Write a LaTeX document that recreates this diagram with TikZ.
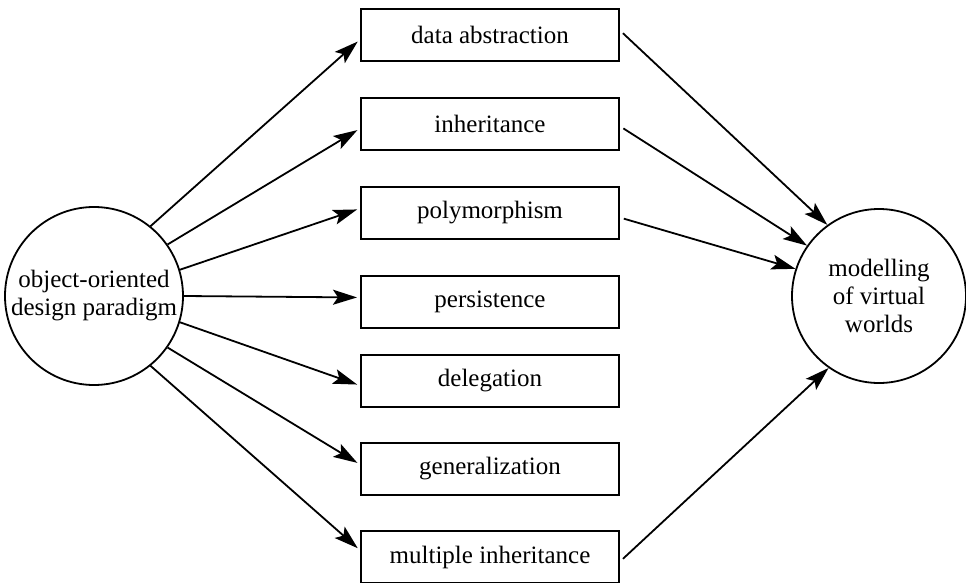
\documentclass[tikz,border=0pt]{standalone}
\usepackage{fontspec}
\setmainfont{Liberation Serif}
\usetikzlibrary{arrows.meta}
\begin{document}
\begin{tikzpicture}[x=1pt, y=1pt,
    box/.style={draw, line width=2pt, minimum width=258pt, minimum height=52pt, inner sep=0pt,
        font=\rmfamily\fontsize{25}{28}\selectfont},
    hub/.style={draw, circle, line width=1.8pt, align=center, inner sep=0pt,
        font=\rmfamily\fontsize{25}{28}\selectfont},
    link/.style={line width=1.8pt, -{Stealth[length=24pt, width=15pt, inset=5pt]}}]
    \useasboundingbox (0,0) rectangle (966,-583);

    % 两个圆
    \node[hub, minimum size=178pt] (ood) at (94,-296) {object-oriented\\design paradigm};
    \node[hub, minimum size=174pt] (mvw) at (879,-296) {modelling\\of virtual\\worlds};

    % 中间的方框
    \node[box] (abs)  at (490,-35)  {data abstraction};
    \node[box] (inh)  at (490,-124) {inheritance};
    \node[box] (poly) at (490,-213) {polymorphism};
    \node[box] (pers) at (490,-302) {persistence};
    \node[box] (dele) at (490,-381) {delegation};
    \node[box] (gen)  at (490,-469) {generalization};
    \node[box] (mult) at (490,-557) {multiple inheritance};

    % 左边的箭头
    \draw[link, shorten >=3pt] (ood.51)  -- (abs.182);
    \draw[link, shorten >=3pt] (ood.35)  -- (inh.182);
    \draw[link, shorten >=3pt] (ood.17)  -- (poly.178);
    \draw[link, shorten >=3pt] (ood.0)   -- (pers.178);
    \draw[link, shorten >=3pt] (ood.-17) -- (dele.182);
    \draw[link, shorten >=3pt] (ood.-35) -- (gen.178);
    \draw[link, shorten >=3pt] (ood.-51) -- (mult.177);

    % 右边的箭头
    \draw[link, shorten <=4pt] (abs.2)   -- (mvw.126);
    \draw[link, shorten <=4pt] (inh.-1)  -- (mvw.145);
    \draw[link, shorten <=4pt] (poly.-2) -- (mvw.162);
    \draw[link, shorten <=4pt] (mult.-2) -- (mvw.235);
\end{tikzpicture}
\end{document}
